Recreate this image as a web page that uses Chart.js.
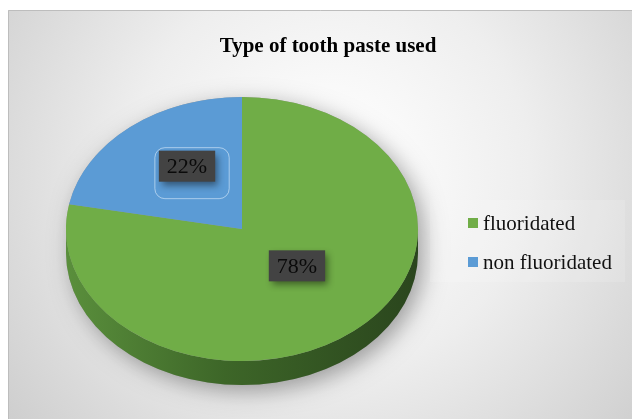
<!DOCTYPE html>
<html>
<head>
<meta charset="utf-8">
<title>Type of tooth paste used</title>
<script src="https://cdn.jsdelivr.net/npm/chart.js@4.4.1/dist/chart.umd.min.js"></script>
<style>
  html, body { margin: 0; padding: 0; background: #ffffff; }
  #pie { display: block; }
</style>
</head>
<body>
<canvas id="pie" width="632" height="419"></canvas>
<script>
const chartTitle = "Type of tooth paste used";
const categories = ["fluoridated", "non fluoridated"];
const shares = [78, 22];
const sliceColors = ["#70ad47", "#5b9bd5"];

const serif = '"Liberation Serif", "Times New Roman", serif';
const tilt = 0.75;      // vertical squash of the pie top
const depth = 24;       // thickness of the pie wall
const hubLift = 13;     // hub sits a bit above the ellipse centre

// tilted 3D look: shadow + wall under the pie, squashed top face
const pie3d = {
  id: "pie3d",
  beforeDraw(chart) {
    const ctx = chart.ctx;
    const W = chart.width, H = chart.height;
    ctx.save();
    ctx.fillStyle = "#ffffff";
    ctx.fillRect(0, 0, W, H);
    const bg = ctx.createRadialGradient(330, 170, 20, 330, 170, 420);
    bg.addColorStop(0, "#ffffff");
    bg.addColorStop(0.45, "#eeeeee");
    bg.addColorStop(1, "#cccccc");
    ctx.fillStyle = bg;
    ctx.fillRect(8, 10, W - 8, H - 10);
    ctx.strokeStyle = "#bdbdbd";
    ctx.lineWidth = 1;
    ctx.beginPath();
    ctx.moveTo(8.5, H);
    ctx.lineTo(8.5, 10.5);
    ctx.lineTo(W, 10.5);
    ctx.stroke();

    const meta = chart.getDatasetMeta(0);
    const a0 = meta.data[0];
    const cx = a0.x, cy = a0.y, r = a0.outerRadius;

    // soft drop shadow of the whole disc
    ctx.save();
    ctx.shadowColor = "rgba(0,0,0,0.35)";
    ctx.shadowBlur = 22;
    ctx.shadowOffsetX = 6;
    ctx.shadowOffsetY = 6;
    ctx.fillStyle = "#9a9a9a";
    ctx.beginPath();
    ctx.ellipse(cx, cy, r, r * tilt, 0, Math.PI, 0);
    ctx.ellipse(cx, cy + depth, r, r * tilt, 0, 0, Math.PI);
    ctx.closePath();
    ctx.fill();
    ctx.restore();

    // wall of each slice on the near (lower) half
    meta.data.forEach((arc, i) => {
      const lo = Math.max(arc.startAngle, 0);
      const hi = Math.min(arc.endAngle, Math.PI);
      if (hi <= lo) return;
      const g = ctx.createLinearGradient(cx - r, 0, cx + r, 0);
      if (i === 0) {
        g.addColorStop(0, "#5a8f3c");
        g.addColorStop(0.45, "#3d6628");
        g.addColorStop(1, "#2a451d");
      } else {
        g.addColorStop(0, "#4a7fae");
        g.addColorStop(1, "#2f5577");
      }
      ctx.fillStyle = g;
      ctx.beginPath();
      ctx.ellipse(cx, cy, r, r * tilt, 0, lo, hi);
      ctx.ellipse(cx, cy + depth, r, r * tilt, 0, hi, lo, true);
      ctx.closePath();
      ctx.fill();
    });
    ctx.restore();
  },
  beforeDatasetsDraw(chart) {
    const a0 = chart.getDatasetMeta(0).data[0];
    const ctx = chart.ctx;
    ctx.save();
    ctx.translate(a0.x, a0.y);
    ctx.scale(1, tilt);
    ctx.translate(-a0.x, -a0.y);
  },
  afterDatasetsDraw(chart) {
    const ctx = chart.ctx;
    ctx.restore();
    const meta = chart.getDatasetMeta(0);

    // value labels in dark boxes
    ctx.save();
    ctx.font = "22px " + serif;
    ctx.textAlign = "center";
    ctx.textBaseline = "middle";
    meta.data.forEach((arc, i) => {
      const mid = (arc.startAngle + arc.endAngle) / 2;
      const f = 0.49;
      const x = arc.x + Math.cos(mid) * arc.outerRadius * f;
      const y = arc.y - hubLift + Math.sin(mid) * arc.outerRadius * tilt * f;
      const text = shares[i] + "%";
      const w = ctx.measureText(text).width + 16;
      const h = 31;
      if (i === 1) {
        ctx.strokeStyle = "rgba(235,245,255,0.55)";
        ctx.lineWidth = 1;
        ctx.beginPath();
        ctx.roundRect(x - w / 2 - 4, y - h / 2 - 3, w + 18, h + 20, 10);
        ctx.stroke();
      }
      ctx.save();
      ctx.shadowColor = "rgba(0,0,0,0.45)";
      ctx.shadowBlur = 7;
      ctx.shadowOffsetX = 3;
      ctx.shadowOffsetY = 4;
      ctx.fillStyle = "#434343";
      ctx.fillRect(x - w / 2, y - h / 2, w, h);
      ctx.restore();
      ctx.fillStyle = "#0a0a0a";
      ctx.fillText(text, x, y + 1);
    });

    // title
    ctx.font = "bold 21px " + serif;
    ctx.textBaseline = "alphabetic";
    ctx.fillStyle = "#000000";
    ctx.fillText(chartTitle, 328, 52);

    // legend
    ctx.fillStyle = "rgba(255,255,255,0.14)";
    ctx.fillRect(430, 200, 195, 82);
    ctx.font = "21px " + serif;
    ctx.textAlign = "left";
    categories.forEach((name, i) => {
      const y = 218 + i * 39;
      ctx.fillStyle = sliceColors[i];
      ctx.fillRect(468, y, 10, 10);
      ctx.fillStyle = "#111111";
      ctx.fillText(name, 483, y + 12);
    });
    ctx.restore();
  }
};

new Chart(document.getElementById("pie"), {
  type: "pie",
  data: {
    labels: categories,
    datasets: [{
      data: shares,
      backgroundColor: sliceColors,
      borderWidth: 0,
    }],
  },
  options: {
    responsive: false,
    animation: false,
    events: [],
    layout: {
      padding: { left: 66, right: 214, top: 53, bottom: 14 },
    },
    plugins: {
      legend: { display: false },
      title: { display: false },
      tooltip: { enabled: false },
    },
  },
  plugins: [pie3d],
});
</script>
</body>
</html>
